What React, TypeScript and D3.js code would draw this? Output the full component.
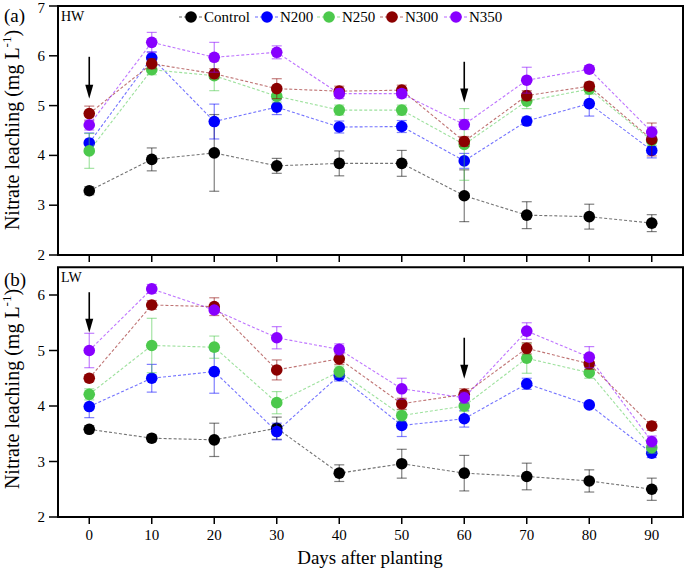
import React, { useEffect, useRef } from "react";
import * as d3 from "d3";

const days = [0, 10, 20, 30, 40, 50, 60, 70, 80, 90];
const seriesNames = ["Control", "N200", "N250", "N300", "N350"];
const seriesColors = ["#000000", "#0000ff", "#4cc94c", "#8b0000", "#8800ff"];

// HW panel (a)
const hwControl = [3.29, 3.92, 4.05, 3.79, 3.84, 3.84, 3.19, 2.8, 2.77, 2.64];
const hwControlErr = [0.08, 0.23, 0.77, 0.15, 0.25, 0.26, 0.52, 0.27, 0.25, 0.17];
const hwN200 = [4.25, 5.96, 4.68, 4.97, 4.57, 4.58, 3.89, 4.69, 5.04, 4.1];
const hwN200Err = [0.2, 0.12, 0.35, 0.15, 0.12, 0.12, 0.15, 0.08, 0.25, 0.15];
const hwN250 = [4.09, 5.72, 5.6, 5.19, 4.91, 4.91, 4.22, 5.09, 5.33, 4.3];
const hwN250Err = [0.35, 0.1, 0.3, 0.12, 0.1, 0.1, 0.72, 0.15, 0.1, 0.1];
const hwN300 = [4.84, 5.84, 5.64, 5.34, 5.29, 5.31, 4.28, 5.2, 5.39, 4.32];
const hwN300Err = [0.15, 0.1, 0.1, 0.2, 0.1, 0.1, 0.1, 0.1, 0.08, 0.33];
const hwN350 = [4.61, 6.27, 5.97, 6.07, 5.24, 5.24, 4.62, 5.51, 5.73, 4.47];
const hwN350Err = [0.1, 0.2, 0.3, 0.13, 0.1, 0.08, 0.1, 0.26, 0.07, 0.1];

// LW panel (b)
const lwControl = [3.58, 3.42, 3.39, 3.6, 2.79, 2.96, 2.79, 2.73, 2.65, 2.5];
const lwControlErr = [0.06, 0.06, 0.3, 0.2, 0.15, 0.26, 0.32, 0.24, 0.2, 0.2];
const lwN200 = [3.99, 4.5, 4.62, 3.54, 4.55, 3.65, 3.77, 4.4, 4.02, 3.15];
const lwN200Err = [0.2, 0.25, 0.39, 0.15, 0.1, 0.2, 0.15, 0.1, 0.05, 0.08];
const lwN250 = [4.21, 5.09, 5.06, 4.06, 4.62, 3.83, 4.0, 4.86, 4.6, 3.25];
const lwN250Err = [0.1, 0.49, 0.2, 0.2, 0.1, 0.1, 0.1, 0.27, 0.1, 0.1];
const lwN300 = [4.5, 5.82, 5.79, 4.65, 4.85, 4.04, 4.21, 5.04, 4.76, 3.64];
const lwN300Err = [0.06, 0.08, 0.16, 0.18, 0.1, 0.1, 0.1, 0.1, 0.1, 0.08];
const lwN350 = [5.0, 6.11, 5.73, 5.23, 5.02, 4.31, 4.15, 5.35, 4.88, 3.36];
const lwN350Err = [0.31, 0.08, 0.05, 0.2, 0.1, 0.19, 0.1, 0.15, 0.19, 0.1];

const xTicks = [0, 10, 20, 30, 40, 50, 60, 70, 80, 90];
const hwYTicks = [2, 3, 4, 5, 6, 7];
const lwYTicks = [2, 3, 4, 5, 6];

// arrows: [day, from, to]
const hwArrows = [[0, 5.98, 5.14], [60, 5.88, 5.06]];
const lwArrows = [[0, 6.05, 5.32], [60, 5.23, 4.49]];

const FONT = "'Liberation Serif', 'Times New Roman', serif";

export default function App() {
  const svgRef = useRef<SVGSVGElement>(null);

  useEffect(() => {
    if (!svgRef.current) return;
    const svg = d3.select(svgRef.current);
    svg.selectAll("*").remove();

    const x = d3.scaleLinear().domain([-5, 95]).range([58, 683]);

    const panels = [
      {
        label: "(a)", site: "HW", y: d3.scaleLinear().domain([2, 7]).range([255, 6]),
        ticks: hwYTicks, labelY: 22, titleY: 130, arrows: hwArrows, showX: false, legend: true,
        means: [hwControl, hwN200, hwN250, hwN300, hwN350],
        errs: [hwControlErr, hwN200Err, hwN250Err, hwN300Err, hwN350Err],
      },
      {
        label: "(b)", site: "LW", y: d3.scaleLinear().domain([2, 6.5]).range([517, 267.25]),
        ticks: lwYTicks, labelY: 286, titleY: 389, arrows: lwArrows, showX: true, legend: false,
        means: [lwControl, lwN200, lwN250, lwN300, lwN350],
        errs: [lwControlErr, lwN200Err, lwN250Err, lwN300Err, lwN350Err],
      },
    ];

    panels.forEach(p => {
      const [y0, y1] = p.y.range();
      const g = svg.append("g");

      // x ticks (outward, at bottom)
      xTicks.forEach(t => {
        g.append("line").attr("x1", x(t)).attr("x2", x(t)).attr("y1", y0).attr("y2", y0 + 7)
          .attr("stroke", "#000").attr("stroke-width", 1.5);
        if (p.showX) {
          g.append("text").attr("x", x(t)).attr("y", y0 + 23).attr("text-anchor", "middle")
            .style("font-family", FONT).style("font-size", "15px").text(t);
        }
      });

      // y ticks
      p.ticks.forEach(t => {
        g.append("line").attr("x1", 49).attr("x2", 58).attr("y1", p.y(t)).attr("y2", p.y(t))
          .attr("stroke", "#000").attr("stroke-width", 1.5);
        g.append("text").attr("x", 45).attr("y", Math.max(p.y(t) + 5, 13)).attr("text-anchor", "end")
          .style("font-family", FONT).style("font-size", "15px").text(t);
      });

      // y title
      const title = g.append("text")
        .attr("transform", `translate(19,${p.titleY}) rotate(-90)`)
        .attr("text-anchor", "middle")
        .style("font-family", FONT).style("font-size", "20px");
      title.append("tspan").text("Nitrate leaching (mg L");
      title.append("tspan").attr("dy", -8).style("font-size", "13px").text("-1");
      title.append("tspan").attr("dy", 8).text(")");

      g.append("text").attr("x", 4).attr("y", p.labelY)
        .style("font-family", FONT).style("font-size", "19px").text(p.label);
      g.append("text").attr("x", 61).attr("y", y1 + 15)
        .style("font-family", FONT).style("font-size", "14px").text(p.site);

      // series
      const line = d3.line<number>().x((_, i) => x(days[i])).y(d => p.y(d));
      p.means.forEach((vals, si) => {
        const c = seriesColors[si];
        g.append("path").datum(vals).attr("fill", "none").attr("stroke", c)
          .attr("stroke-opacity", 0.55).attr("stroke-width", 1.1)
          .attr("stroke-dasharray", "3,2").attr("d", line);
        vals.forEach((v, i) => {
          const e = p.errs[si][i];
          const cx = x(days[i]);
          const eb = g.append("g").attr("stroke", c).attr("stroke-opacity", 0.5).attr("stroke-width", 1.2);
          eb.append("line").attr("x1", cx).attr("x2", cx).attr("y1", p.y(v - e)).attr("y2", p.y(v + e));
          eb.append("line").attr("x1", cx - 5).attr("x2", cx + 5).attr("y1", p.y(v - e)).attr("y2", p.y(v - e));
          eb.append("line").attr("x1", cx - 5).attr("x2", cx + 5).attr("y1", p.y(v + e)).attr("y2", p.y(v + e));
        });
        vals.forEach((v, i) => {
          g.append("circle").attr("cx", x(days[i])).attr("cy", p.y(v)).attr("r", 5.8).attr("fill", c);
        });
      });

      // arrows
      p.arrows.forEach(([d, from, to]) => {
        const ax = x(d);
        const ya = p.y(from);
        const yb = p.y(to);
        g.append("line").attr("x1", ax).attr("x2", ax).attr("y1", ya).attr("y2", yb - 10)
          .attr("stroke", "#000").attr("stroke-width", 1.6);
        g.append("path")
          .attr("d", `M${ax - 4},${yb - 14} L${ax + 4},${yb - 14} L${ax},${yb} Z`)
          .attr("fill", "#000");
      });

      // frame
      g.append("rect").attr("x", 58).attr("y", y1).attr("width", 683 - 58).attr("height", y0 - y1)
        .attr("fill", "none").attr("stroke", "#000").attr("stroke-width", 2);

      // legend
      if (p.legend) {
        const lx = [191, 267, 329, 392, 456];
        seriesNames.forEach((name, si) => {
          const c = seriesColors[si];
          const ly = 17;
          g.append("line").attr("x1", lx[si] - 12).attr("x2", lx[si] + 12).attr("y1", ly).attr("y2", ly)
            .attr("stroke", c).attr("stroke-opacity", 0.6).attr("stroke-width", 1.1).attr("stroke-dasharray", "3,2");
          g.append("circle").attr("cx", lx[si]).attr("cy", ly).attr("r", 5.8).attr("fill", c);
          g.append("text").attr("x", lx[si] + 13).attr("y", ly + 5)
            .style("font-family", FONT).style("font-size", "15px").text(name);
        });
      }
    });

    svg.append("text").attr("x", 370).attr("y", 564).attr("text-anchor", "middle")
      .style("font-family", FONT).style("font-size", "19px").text("Days after planting");
  }, []);

  return (
    <svg ref={svgRef} width={685} height={570}
      style={{ position: "absolute", left: 0, top: 0, background: "#fff" }} />
  );
}
